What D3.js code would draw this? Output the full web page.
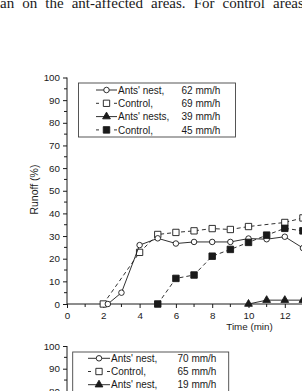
<!DOCTYPE html>
<html>
<head>
<meta charset="utf-8">
<script src="https://cdn.jsdelivr.net/npm/d3@7"></script>
<style>
  body { margin: 0; background: #fff; }
  svg { display: block; }
  text { font-family: "Liberation Sans", Arial, sans-serif; fill: #1a1a1a; }
  .body-text { font-family: "Liberation Serif", "Times New Roman", serif; }
</style>
</head>
<body>
<div id="chart"></div>
<script>
// ---- data ----
const bodyLine = "an on the ant-affected areas. For control areas";

const yTicks = [0, 10, 20, 30, 40, 50, 60, 70, 80, 90, 100];
const xTicks = [0, 2, 4, 6, 8, 10, 12];

// top panel: four series
const timeNest62 = [2.25, 3, 4, 5, 6, 7, 8, 9, 10, 11, 12, 13];
const runoffNest62 = [0, 5, 26, 29, 26.7, 27.4, 27.4, 27.4, 28.9, 28.6, 29.7, 24.7];

const timeCtrl69 = [2, 4, 5, 6, 7, 8, 9, 10, 12, 13];
const runoffCtrl69 = [0, 22.8, 30.7, 31.6, 32.3, 33.3, 32.9, 34.2, 36, 38];

const timeNest39 = [10, 11, 12, 13];
const runoffNest39 = [0, 1.7, 1.7, 1.7];

const timeCtrl45 = [5, 6, 7, 8, 9, 10, 11, 12, 13];
const runoffCtrl45 = [0, 11.3, 12.8, 21.1, 24.1, 27.2, 30.4, 33.4, 32.3];

const legendTopNames = ["Ants' nest,", "Control,", "Ants' nests,", "Control,"];
const legendTopRates = ["62 mm/h", "69 mm/h", "39 mm/h", "45 mm/h"];
const legendTopKinds = ["circle", "square", "triangle", "filledSquare"];

// bottom panel (only the top of it is visible)
const legendBottomNames = ["Ants' nest,", "Control,", "Ants' nest,"];
const legendBottomRates = ["70 mm/h", "65 mm/h", "19 mm/h"];
const legendBottomKinds = ["circle", "square", "triangle"];

// ---- drawing ----
const width = 302, height = 391;
const ink = "#1a1a1a";

const svg = d3.select("#chart").append("svg")
    .attr("width", width)
    .attr("height", height);

// cropped line of page text above the figure
svg.append("text")
    .attr("class", "body-text")
    .attr("x", 0)
    .attr("y", 7.5)
    .style("font-size", "15px")
    .style("word-spacing", "4.3px")
    .text(bodyLine);

const xScale = d3.scaleLinear().domain([0, 20]).range([67, 430]);

// marker shapes
const symbolFor = {
    circle: { type: d3.symbolCircle, size: 24, fill: "#fff" },
    square: { type: d3.symbolSquare, size: 40, fill: "#fff" },
    triangle: { type: d3.symbolTriangle, size: 26, fill: ink },
    filledSquare: { type: d3.symbolSquare, size: 42, fill: ink }
};

function drawMarker(g, kind, x, y) {
    const s = symbolFor[kind];
    g.append("path")
        .attr("d", d3.symbol().type(s.type).size(s.size)())
        .attr("transform", "translate(" + x + "," + y + ")")
        .attr("fill", s.fill)
        .attr("stroke", ink)
        .attr("stroke-width", 0.9);
}

function drawAxes(yScale) {
    const g = svg.append("g");

    // y axis
    const yAxis = d3.axisLeft(yScale)
        .tickValues(yTicks)
        .tickSize(4)
        .tickPadding(3)
        .tickFormat(d3.format("d"));
    const yG = g.append("g")
        .attr("transform", "translate(" + xScale(0) + ",0)")
        .call(yAxis);
    yG.select(".domain").attr("d", "M0," + yScale(0) + "V" + yScale(100));
    yG.selectAll("text").style("font-size", "9.8px").attr("fill", ink);

    // minor ticks at the fives
    const minorY = d3.range(5, 100, 10);
    g.selectAll(null).data(minorY).enter().append("line")
        .attr("x1", xScale(0) - 3).attr("x2", xScale(0))
        .attr("y1", d => yScale(d)).attr("y2", d => yScale(d))
        .attr("stroke", ink);

    // x axis, the line runs on past the right edge of the crop
    const xAxis = d3.axisBottom(xScale)
        .tickValues(xTicks)
        .tickSize(4)
        .tickPadding(4);
    const xG = g.append("g")
        .attr("transform", "translate(0," + yScale(0) + ")")
        .call(xAxis);
    xG.select(".domain").attr("d", "M" + xScale(0) + ",0H" + xScale(20));
    xG.selectAll("text").style("font-size", "9.8px").attr("fill", ink);

    const minorX = d3.range(1, 20, 2);
    g.selectAll(null).data(minorX).enter().append("line")
        .attr("x1", d => xScale(d)).attr("x2", d => xScale(d))
        .attr("y1", yScale(0)).attr("y2", yScale(0) + 3)
        .attr("stroke", ink);

    g.selectAll(".domain, .tick line").attr("stroke", ink);

    return g;
}

function drawLegend(box, rows, names, rates, kinds) {
    const g = svg.append("g");
    g.append("rect")
        .attr("x", box.x).attr("y", box.y)
        .attr("width", box.w).attr("height", box.h)
        .attr("fill", "#fff")
        .attr("stroke", "#444")
        .attr("stroke-width", 0.9);

    names.forEach((name, i) => {
        const y = box.y + rows.first + i * rows.step;
        const dashed = kinds[i] === "square" || kinds[i] === "filledSquare";
        const len = rows.lineX1 - rows.lineX0;
        g.append("line")
            .attr("x1", rows.lineX0).attr("x2", rows.lineX1)
            .attr("y1", y).attr("y2", y)
            .attr("stroke", ink)
            .attr("stroke-width", 0.9)
            .attr("stroke-dasharray", dashed ? "3," + (len - 6) + ",3" : null);
        drawMarker(g, kinds[i], (rows.lineX0 + rows.lineX1) / 2, y);
        g.append("text")
            .attr("x", rows.lineX1 + 1)
            .attr("y", y + 3.6)
            .style("font-size", "10px")
            .text(name);
        g.append("text")
            .attr("x", rows.rateX)
            .attr("y", y + 3.6)
            .style("font-size", "10px")
            .text(rates[i]);
    });
}

function drawSeries(yScale, times, values, kind, dashed) {
    const pts = times.map((t, i) => [xScale(t), yScale(values[i])]);
    const g = svg.append("g");
    g.append("path")
        .attr("d", d3.line()(pts))
        .attr("fill", "none")
        .attr("stroke", ink)
        .attr("stroke-width", 0.9)
        .attr("stroke-dasharray", dashed ? "4,3" : null);
    return { g, pts, kind };
}

// ---------- top panel ----------
const yTop = d3.scaleLinear().domain([0, 100]).range([304, 77.5]);
drawAxes(yTop);

svg.append("text")
    .attr("transform", "translate(" + 37.5 + "," + yTop(50.5) + ") rotate(-90)")
    .attr("text-anchor", "middle")
    .style("font-size", "10.5px")
    .text("Runoff (%)");

svg.append("text")
    .attr("x", xScale(10) + 1)
    .attr("y", 329.5)
    .attr("text-anchor", "middle")
    .style("font-size", "9.8px")
    .text("Time (min)");

const seriesTop = [
    drawSeries(yTop, timeCtrl69, runoffCtrl69, "square", true),
    drawSeries(yTop, timeNest62, runoffNest62, "circle", false),
    drawSeries(yTop, timeCtrl45, runoffCtrl45, "filledSquare", true),
    drawSeries(yTop, timeNest39, runoffNest39, "triangle", false)
];
seriesTop.forEach(s => s.pts.forEach(p => drawMarker(s.g, s.kind, p[0], p[1])));

drawLegend(
    { x: 78.5, y: 83, w: 157, h: 54 },
    { first: 7, step: 13.3, lineX0: 96, lineX1: 117, rateX: 181.5 },
    legendTopNames, legendTopRates, legendTopKinds
);

// ---------- bottom panel ----------
const yBottom = d3.scaleLinear().domain([0, 100]).range([573, 346]);
drawAxes(yBottom);

drawLegend(
    { x: 72.7, y: 352, w: 156, h: 60 },
    { first: 6.3, step: 13.2, lineX0: 88, lineX1: 110, rateX: 177.5 },
    legendBottomNames, legendBottomRates, legendBottomKinds
);
</script>
</body>
</html>
